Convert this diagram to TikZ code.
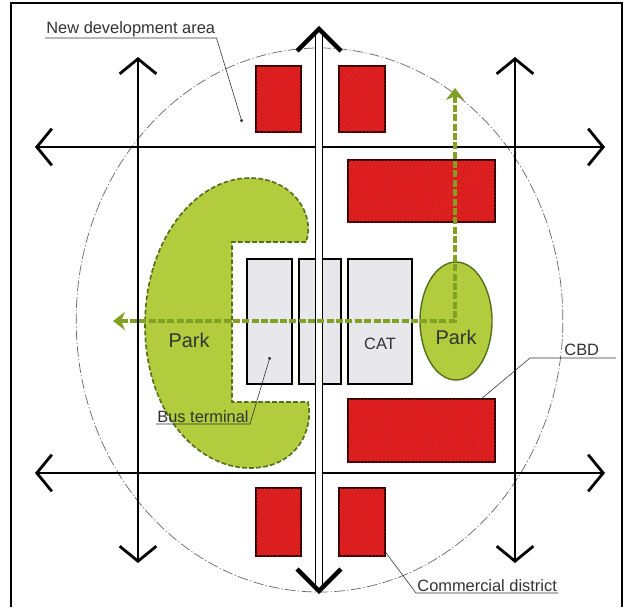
\documentclass[tikz,border=0pt]{standalone}
\usepackage{fontspec}
\setmainfont{Liberation Sans}
\usepackage{tikz}
\usetikzlibrary{arrows.meta,shapes.geometric,patterns.meta,positioning}
\definecolor{blockred}{RGB}{228,32,32}
\definecolor{parkgreen}{RGB}{178,204,62}
\definecolor{parkedge}{RGB}{84,112,28}
\definecolor{waygreen}{RGB}{130,160,36}
\definecolor{termgrey}{RGB}{232,232,236}
\definecolor{labelgrey}{RGB}{50,50,50}

\begin{document}
\begin{tikzpicture}[x=0.03cm,y=-0.03cm,
  road/.style={line width=2.4pt,<->,>={Straight Barb[length=4.5mm,width=11mm]}},
  mainroad/.style={double=white,double distance=4.3pt,line width=1.6pt},
  mainhead/.style={line width=3.8pt},
  redblock/.style={draw=black!80!red,line width=1.6pt,fill=blockred,inner sep=0pt,
    postaction={pattern={Lines[angle=45,distance=2.2pt,line width=0.3pt]},pattern color=blockred!80!black}},
  greyblock/.style={draw,line width=1.6pt,fill=termgrey,inner sep=0pt,minimum height=3.75cm},
  parkarea/.style={fill=parkgreen,draw=parkedge,line width=1.4pt,dash pattern=on 4pt off 2pt},
  greenway/.style={waygreen,line width=4pt,dash pattern=on 6pt off 2pt,
    {Stealth[length=3.6mm,width=5.5mm]}-{Stealth[length=3.6mm,width=5.5mm]}},
  boundary/.style={black!60,line width=0.6pt,dash pattern=on 9pt off 2pt on 1pt off 2pt},
  lbl/.style={font=\fontsize{14}{16}\selectfont,text=labelgrey,inner sep=1pt},
  parklbl/.style={font=\fontsize{17}{20}\selectfont,text=black!80},
  leader/.style={labelgrey,line width=0.5pt,{Circle[length=2.6pt]}-}]
\useasboundingbox (0,0) rectangle (624,607);
\draw[line width=1.6pt] (11,607) -- (11,3) -- (622,3) -- (622,607);
\draw[boundary] (319.5,320) ellipse [x radius=7.3cm,y radius=8.16cm];
\draw[parkarea] (306,242) -- (232,242) -- (232,402) -- (308,402)
  .. controls (314,428) and (298,468) .. (250,468)
  .. controls (195,468) and (145,410) .. (145,325)
  .. controls (145,240) and (195,178) .. (250,178)
  .. controls (292,178) and (316,214) .. (306,242) -- cycle;
\draw[road] (35,147) -- (605,147);
\draw[road] (35,473) -- (605,473);
\draw[road] (138,57) -- (138,563);
\draw[road] (515,57) -- (515,563);
\node[lbl,anchor=south west] (cbd) at (563,357) {CBD};
\node[lbl,anchor=south west] (comm) at (416,593) {Commercial district};
\coordinate (cbddot) at (443,431);
\coordinate (cbdknee) at (530,358);
\coordinate (commdot) at (363,522);
\draw[leader] (cbddot) -- (cbdknee) -- ++(86,0);
\draw[leader] (commdot) -- (comm.south west) -- (comm.south east);
\node[redblock,minimum width=1.35cm,minimum height=1.98cm] (rnw) at (278.5,99) {};
\node[redblock,minimum width=1.38cm,minimum height=1.98cm] (rne) at (362,99) {};
\node[redblock,minimum width=4.41cm,minimum height=1.86cm] (rtop) at (421.5,191) {};
\node[redblock,minimum width=4.41cm,minimum height=1.89cm] (rbot) at (421.5,430.5) {};
\node[redblock,minimum width=1.35cm,minimum height=2.04cm] (rsw) at (278.5,522) {};
\node[redblock,minimum width=1.38cm,minimum height=2.04cm] (rse) at (362,522) {};
\node[greyblock,minimum width=1.35cm] (bus) at (269.5,321.5) {};
\node[greyblock,minimum width=1.26cm] (mid) at (320,321.5) {};
\node[greyblock,minimum width=1.92cm] (cat) at (380,321.5) {};
\node[lbl] at (380,344) {CAT};
\node[ellipse,fill=parkgreen,draw=parkedge,line width=1.2pt,inner sep=0pt,
  minimum width=2.16cm,minimum height=3.54cm] (parke) at (456,321) {};
\draw[mainroad] (319,30) -- (319,590);
\draw[mainhead] (297,51) -- (319,29) -- (341,51);
\draw[mainhead] (297,569) -- (319,591) -- (341,569);
\draw[greenway] (113,321) -- (455,321) -- (455,88);
\node[parklbl] (parkw) at (189,340) {Park};
\node[parklbl] at ([yshift=-5mm]parke.center) {Park};
\node[lbl,anchor=south west] (nda) at (45,38) {New development area};
\node[lbl,anchor=south west] (busl) at (156,424) {Bus terminal};
\coordinate (ndadot) at (242,122);
\coordinate (busdot) at (270,357);
\draw[leader] (ndadot) -- (nda.south east) -- (nda.south west);
\draw[leader] (busdot) -- (busl.south east) -- (busl.south west);
\end{tikzpicture}
\end{document}
